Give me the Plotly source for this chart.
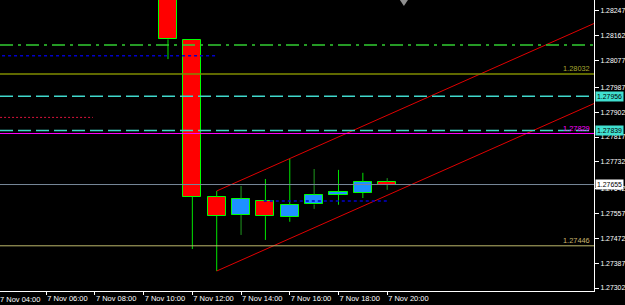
import plotly.graph_objects as go
import pandas as pd

# ---------------- data ----------------
candle_time = ["2013-11-07 11:00", "2013-11-07 12:00", "2013-11-07 13:00", "2013-11-07 14:00",
               "2013-11-07 15:00", "2013-11-07 16:00", "2013-11-07 17:00", "2013-11-07 18:00",
               "2013-11-07 19:00", "2013-11-07 20:00"]
open_ = [1.28330, 1.28148, 1.27613, 1.27552, 1.27599, 1.27543, 1.27587, 1.27620, 1.27627, 1.27664]
high = [1.28345, 1.28148, 1.27633, 1.27650, 1.27674, 1.27742, 1.27708, 1.27705, 1.27695, 1.27677]
low = [1.28083, 1.27435, 1.27360, 1.27483, 1.27466, 1.27528, 1.27572, 1.27586, 1.27609, 1.27637]
close = [1.28150, 1.27613, 1.27549, 1.27607, 1.27547, 1.27585, 1.27621, 1.27630, 1.27664, 1.27655]

# channel (anchored on 13:00 bar high / low)
chan_time = ["2013-11-07 13:00", "2013-11-08 06:00"]
chan_upper = [1.27633, 1.28260]
chan_lower = [1.27360, 1.27987]

# horizontal levels
lvl_dashdot = 1.28131
lvl_blue_dot_top = 1.28094
lvl_olive = 1.28032
lvl_cyan_1 = 1.27956
lvl_red_dot = 1.27884
lvl_cyan_2 = 1.27839
lvl_magenta = 1.27829
lvl_bid = 1.27655
lvl_khaki = 1.27446
lvl_blue_dot_low = 1.27599
blue_dot_top_span = ["2013-11-07 00:00", "2013-11-07 12:58"]
red_dot_span = ["2013-11-07 00:00", "2013-11-07 07:55"]
blue_dot_low_span = ["2013-11-07 14:56", "2013-11-07 20:00"]

y_ticks = [1.28247, 1.28162, 1.28077, 1.27987, 1.27902, 1.27817, 1.27732, 1.27642,
           1.27557, 1.27472, 1.27387, 1.27302]
x_ticks = ["2013-11-07 06:00", "2013-11-07 08:00", "2013-11-07 10:00", "2013-11-07 12:00",
           "2013-11-07 14:00", "2013-11-07 16:00", "2013-11-07 18:00", "2013-11-07 20:00"]
x_tick_text = ["7 Nov 06:00", "7 Nov 08:00", "7 Nov 10:00", "7 Nov 12:00",
               "7 Nov 14:00", "7 Nov 16:00", "7 Nov 18:00", "7 Nov 20:00"]
first_label_time = "2013-11-07 04:00"
first_label_text = "7 Nov 04:00"

x_range = ["2013-11-07 04:06:10", "2013-11-08 04:29:25"]
y_range = [1.272918, 1.282845]

# ---------------- style ----------------
FONT = "Liberation Sans, Arial, sans-serif"
FS = 6.9
BULL = "#1E90FF"
BEAR = "#FF0000"
OUTLINE = "#00FF00"
wick_dark = [False, False, False, True, False, False, True, False, False, True]
hour_ms = 3600000
body_w = 0.74 * hour_ms

t = pd.to_datetime(candle_time)

fig = go.Figure()

# wicks (upper and lower segments, so they never cross bodies)
for dark in (False, True):
    xs, ys = [], []
    for i in range(len(t)):
        if wick_dark[i] != dark:
            continue
        top = max(open_[i], close[i])
        bot = min(open_[i], close[i])
        xs += [t[i], t[i], None, t[i], t[i], None]
        ys += [top, high[i], None, low[i], bot, None]
    fig.add_trace(go.Scatter(x=xs, y=ys, mode="lines",
                             line=dict(color="#1f9a1f" if dark else "#00E600", width=1),
                             hoverinfo="skip", showlegend=False))

# bodies
fig.add_trace(go.Bar(
    x=t, base=open_, y=[c - o for o, c in zip(open_, close)],
    width=body_w,
    marker=dict(color=[BULL if c > o else BEAR for o, c in zip(open_, close)],
                line=dict(color=OUTLINE, width=1)),
    showlegend=False, hoverinfo="skip"))

# channel
for arr in (chan_upper, chan_lower):
    fig.add_trace(go.Scatter(x=pd.to_datetime(chan_time), y=arr, mode="lines",
                             line=dict(color="#E00000", width=1),
                             hoverinfo="skip", showlegend=False))

# horizontal level shapes
def hfull(y, color, width=1, dash="solid"):
    fig.add_shape(type="line", xref="paper", x0=0, x1=1, yref="y", y0=y, y1=y,
                  line=dict(color=color, width=width, dash=dash), layer="above")

def hseg(span, y, color, width=1, dash="solid"):
    fig.add_shape(type="line", xref="x", x0=span[0], x1=span[1], yref="y", y0=y, y1=y,
                  line=dict(color=color, width=width, dash=dash), layer="above")

hfull(lvl_dashdot, "#32CD32", 1.3, "13px,5px,3px,5px")
hseg(blue_dot_top_span, lvl_blue_dot_top, "#0000CD", 1.5, "3px,3px")
hfull(lvl_olive, "#7F8C00", 1.5)
hfull(lvl_cyan_1, "#40D8CC", 1.5, "13px,5px")
hseg(red_dot_span, lvl_red_dot, "#DC143C", 1, "2px,2px")
hfull(lvl_cyan_2, "#40D8CC", 1.5, "13px,5px")
hfull(lvl_magenta, "#FF00FF", 1)
hfull(lvl_bid, "#778899", 1)
hfull(lvl_khaki, "#BDB76B", 1)
hseg(blue_dot_low_span, lvl_blue_dot_low, "#0000CD", 1.5, "3px,3px")

# chart-shift marker at top
fig.add_shape(type="path", xref="paper", yref="paper", xsizemode="pixel", ysizemode="pixel",
              xanchor=0.68, yanchor=1, path="M-4,0 L4,0 L0,-6 Z",
              fillcolor="#909090", line=dict(color="#909090", width=0))

# level text labels on chart
for val, col in ((lvl_olive, "#A8A830"), (lvl_magenta, "#FF00FF"), (lvl_khaki, "#C8B46E")):
    fig.add_annotation(xref="paper", x=0.996, xanchor="right", yref="y", y=val, yanchor="bottom",
                       text=f"{val:.5f}", showarrow=False, yshift=-1,
                       font=dict(family=FONT, size=7.4, color=col))

# price-scale highlighted labels
for val, bg in ((lvl_cyan_1, "#40E0D0"), (lvl_cyan_2, "#40E0D0"), (lvl_bid, "#FFFFFF")):
    fig.add_annotation(xref="paper", x=1, xanchor="left", xshift=1, yref="y", y=val,
                       yanchor="middle", text=f"{val:.5f}", showarrow=False,
                       bgcolor=bg, borderpad=1, font=dict(family=FONT, size=FS, color="#000000"))

# first (partially hidden) time label
r0 = pd.Timestamp(x_range[0]).value
r1 = pd.Timestamp(x_range[1]).value
fx = (pd.Timestamp(first_label_time).value - r0) / (r1 - r0)
fig.add_annotation(xref="paper", x=fx, xanchor="left", yref="paper", y=0, yanchor="top",
                   yshift=-2, xshift=1, text=first_label_text, showarrow=False,
                   font=dict(family=FONT, size=7.5, color="#FFFFFF"))

fig.update_layout(
    width=625, height=305,
    margin=dict(l=0, r=31, t=0, b=14),
    paper_bgcolor="#000000", plot_bgcolor="#000000",
    barmode="overlay", bargap=0,
    showlegend=False,
    font=dict(family=FONT, size=FS, color="#FFFFFF"),
    xaxis=dict(type="date", range=x_range, showgrid=False, zeroline=False,
               showline=True, linecolor="#FFFFFF", linewidth=1,
               ticks="outside", ticklen=3, tickcolor="#FFFFFF",
               tickvals=x_ticks, ticktext=x_tick_text, ticklabelposition="outside right",
               tickangle=0, automargin=False, ticklabelstandoff=0,
               tickfont=dict(family=FONT, size=7.5, color="#FFFFFF"), fixedrange=True),
    yaxis=dict(side="right", range=y_range, showgrid=False, zeroline=False,
               showline=True, linecolor="#FFFFFF", linewidth=1,
               ticks="outside", ticklen=4, tickcolor="#FFFFFF", automargin=False,
               ticklabelstandoff=0,
               tickvals=y_ticks, ticktext=[f"{v:.5f}" for v in y_ticks],
               tickfont=dict(family=FONT, size=FS, color="#FFFFFF"), fixedrange=True),
)

fig.write_html("out.html")
